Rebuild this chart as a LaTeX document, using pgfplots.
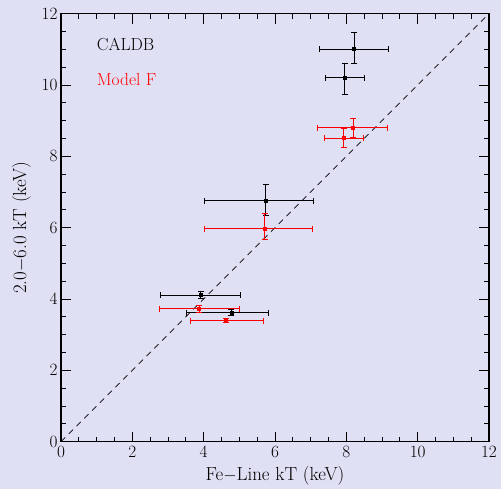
\documentclass[border=0pt]{standalone}
\usepackage{pgfplots}
\pgfplotsset{compat=1.18}
\usepackage{pgfplotstable}
\definecolor{bg}{RGB}{224,224,244}

% x y xplus xminus yplus yminus
\pgfplotstableread{
x y xp xm yp ym
8.22 11.00 0.95 0.98 0.48 0.40
7.95 10.20 0.55 0.53 0.41 0.46
5.74 6.76 1.33 1.73 0.46 0.43
3.92 4.11 1.10 1.13 0.10 0.10
4.78 3.62 1.03 1.26 0.08 0.08
}\caldb
\pgfplotstableread{
x y xp xm yp ym
8.19 8.80 0.95 1.00 0.27 0.28
7.93 8.51 0.54 0.55 0.28 0.27
5.71 5.97 1.34 1.70 0.42 0.30
3.88 3.73 1.12 1.13 0.10 0.10
4.62 3.39 1.07 1.00 0.06 0.06
}\modelf

\begin{document}
\begin{tikzpicture}
\path[use as bounding box] (0,0) rectangle (501bp,489bp);
\fill[bg] (0,0) rectangle (501bp,489bp);
\begin{axis}[
  at={(61bp,47.3bp)}, anchor=south west,
  width=428bp, height=428bp, scale only axis,
  xmin=0, xmax=12, ymin=0, ymax=12,
  xtick={0,2,...,12}, ytick={0,2,...,12},
  minor x tick num=3, minor y tick num=3,
  tick align=inside,
  major tick length=10bp, minor tick length=5bp,
  axis line style={line width=1.3pt},
  every tick/.style={black, line width=0.9pt},
  tick pos=both,
  ticklabel style={font=\fontsize{19}{22}\selectfont},
  xlabel={Fe$-$Line kT (keV)},
  ylabel={2.0$-$6.0 kT (keV)},
  label style={font=\fontsize{19}{22}\selectfont},
  xlabel style={yshift=-2bp},
  ylabel style={yshift=4bp},
  xticklabel style={yshift=-1bp},
  clip=false,
]
\addplot[black, dashed, dash pattern=on 6bp off 5bp, line width=0.7pt] coordinates {(0,0) (12,12)};
\addplot[black, only marks, mark=square*, mark size=1.5bp, line width=0.9pt,
  error bars/.cd, x dir=both, x explicit, y dir=both, y explicit,
  error mark options={rotate=90, mark size=3bp, line width=0.9pt},
  error bar style={line width=0.9pt}]
  table[x=x, y=y, x error plus=xp, x error minus=xm, y error plus=yp, y error minus=ym] {\caldb};
\addplot[red, only marks, mark=square*, mark size=1.5bp, line width=0.9pt,
  error bars/.cd, x dir=both, x explicit, y dir=both, y explicit,
  error mark options={rotate=90, mark size=3bp, line width=0.9pt},
  error bar style={line width=0.9pt}]
  table[x=x, y=y, x error plus=xp, x error minus=xm, y error plus=yp, y error minus=ym] {\modelf};
\node[anchor=west, font=\fontsize{17.5}{20}\selectfont, inner sep=0pt] at (axis cs:1.0,11.15) {CALDB};
\node[anchor=west, font=\fontsize{17.5}{20}\selectfont, inner sep=0pt, red] at (axis cs:1.0,10.15) {Model F};
\end{axis}
\end{tikzpicture}
\end{document}
